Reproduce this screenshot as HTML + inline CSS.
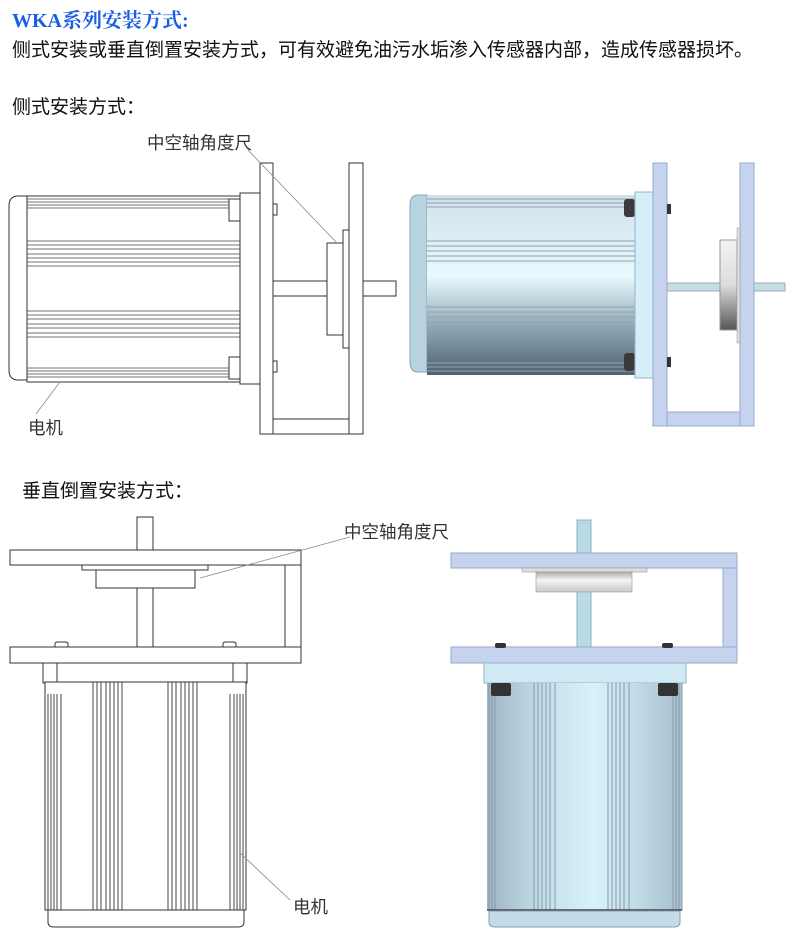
<!DOCTYPE html>
<html><head><meta charset="utf-8"><style>
html,body{margin:0;padding:0;background:#fff;}
body{width:790px;height:935px;overflow:hidden;position:relative;font-family:"Liberation Sans","Noto Sans CJK SC",sans-serif;}
.t{position:absolute;white-space:nowrap;color:#111;}
</style></head><body>
<div class="t" style="left:12px;top:4px;font-size:20px;font-weight:bold;color:#1a5ee8;font-family:'Liberation Serif','Noto Serif CJK SC',serif;">WKA系列安装方式:</div>
<div class="t" style="left:12px;top:35px;font-size:19px;">侧式安装或垂直倒置安装方式，可有效避免油污水垢渗入传感器内部，造成传感器损坏。</div>
<div class="t" style="left:12px;top:92px;font-size:19px;">侧式安装方式：</div>
<div class="t" style="left:22px;top:476px;font-size:19px;">垂直倒置安装方式：</div>
<div class="t" style="left:147px;top:130px;font-size:17.5px;color:#333;">中空轴角度尺</div>
<div class="t" style="left:28px;top:415px;font-size:17.5px;color:#333;">电机</div>
<div class="t" style="left:344px;top:519px;font-size:17.5px;color:#333;">中空轴角度尺</div>
<div class="t" style="left:293px;top:894px;font-size:17.5px;color:#333;">电机</div>
<svg width="790" height="935" style="position:absolute;left:0;top:0" xmlns="http://www.w3.org/2000/svg">
<defs>
<linearGradient id="gv" x1="0" y1="0" x2="0" y2="1">
<stop offset="0" stop-color="#cfe0ea"/><stop offset="0.45" stop-color="#e8faff"/><stop offset="0.75" stop-color="#8aa3b2"/><stop offset="1" stop-color="#4e6270"/></linearGradient>
<linearGradient id="gh" x1="0" y1="0" x2="1" y2="0">
<stop offset="0" stop-color="#9fb6c4"/><stop offset="0.3" stop-color="#c5e0ec"/><stop offset="0.55" stop-color="#d8f2fc"/><stop offset="1" stop-color="#a7c0cf"/></linearGradient>
<linearGradient id="enc" x1="0" y1="0" x2="0" y2="1"><stop offset="0" stop-color="#f2f2f2"/><stop offset="0.5" stop-color="#ddd"/><stop offset="1" stop-color="#555"/></linearGradient>
<linearGradient id="enc2" x1="0" y1="0" x2="0" y2="1"><stop offset="0" stop-color="#aaa"/><stop offset="0.4" stop-color="#f4f4f4"/><stop offset="1" stop-color="#c8c8c8"/></linearGradient>
</defs>
<g fill="#fff" stroke="#333" stroke-width="1">
<path d="M27 196 H18 Q9 196 9 206 V370 Q9 380 18 380 H27 Z"/>
<rect x="27" y="196" width="213" height="186"/>
<g stroke="#444" stroke-width="0.8">
<line x1="27" y1="199" x2="240" y2="199"/><line x1="27" y1="202" x2="240" y2="202"/><line x1="27" y1="205" x2="240" y2="205"/><line x1="27" y1="208" x2="240" y2="208"/>
<line x1="27" y1="241" x2="240" y2="241"/><line x1="27" y1="245" x2="240" y2="245"/><line x1="27" y1="249" x2="240" y2="249"/><line x1="27" y1="254" x2="240" y2="254"/><line x1="27" y1="258" x2="240" y2="258"/><line x1="27" y1="262" x2="240" y2="262"/><line x1="27" y1="266" x2="240" y2="266"/>
<line x1="27" y1="311" x2="240" y2="311"/><line x1="27" y1="315" x2="240" y2="315"/><line x1="27" y1="319" x2="240" y2="319"/><line x1="27" y1="324" x2="240" y2="324"/><line x1="27" y1="328" x2="240" y2="328"/><line x1="27" y1="333" x2="240" y2="333"/><line x1="27" y1="337" x2="240" y2="337"/>
<line x1="27" y1="368" x2="240" y2="368"/><line x1="27" y1="371" x2="240" y2="371"/><line x1="27" y1="374" x2="240" y2="374"/><line x1="27" y1="377" x2="240" y2="377"/>
</g>
<rect x="229" y="199" width="11" height="22"/><rect x="229" y="357" width="11" height="22"/>
<rect x="240" y="193" width="20" height="191"/>
<rect x="260" y="163" width="13" height="271"/>
<rect x="349" y="163" width="14" height="271"/>
<rect x="273" y="419" width="76" height="15"/>
<rect x="273" y="204" width="4" height="11"/><rect x="273" y="361" width="4" height="11"/>
<rect x="273" y="281" width="54" height="15"/>
<rect x="363" y="281" width="33" height="15"/>
<rect x="327" y="243" width="16" height="92"/>
<rect x="343" y="230" width="6" height="118"/>
</g>
<line x1="248" y1="150" x2="336" y2="242" stroke="#888" stroke-width="0.8"/>
<line x1="60" y1="382" x2="36" y2="414" stroke="#888" stroke-width="0.8"/>
<path d="M427 195 H418 Q410 195 410 205 V362 Q410 372 418 372 H427 Z" fill="#b8d2e0" stroke="#8aa4b4"/>
<rect x="427" y="195" width="208" height="180" fill="url(#gv)"/>
<g stroke="#8fa2ae" stroke-width="1">
<line x1="427" y1="199" x2="635" y2="199"/><line x1="427" y1="203" x2="635" y2="203"/><line x1="427" y1="207" x2="635" y2="207"/>
<line x1="427" y1="241" x2="635" y2="241"/><line x1="427" y1="246" x2="635" y2="246"/><line x1="427" y1="251" x2="635" y2="251"/><line x1="427" y1="256" x2="635" y2="256"/><line x1="427" y1="261" x2="635" y2="261"/>
<line x1="427" y1="307" x2="635" y2="307"/><line x1="427" y1="312" x2="635" y2="312"/><line x1="427" y1="317" x2="635" y2="317"/><line x1="427" y1="322" x2="635" y2="322"/><line x1="427" y1="327" x2="635" y2="327"/>
<line x1="427" y1="363" x2="635" y2="363"/><line x1="427" y1="367" x2="635" y2="367"/><line x1="427" y1="371" x2="635" y2="371"/>
</g>
<rect x="624" y="199" width="11" height="18" rx="3" fill="#3a3a3a"/><rect x="624" y="353" width="11" height="18" rx="3" fill="#3a3a3a"/>
<rect x="635" y="192" width="18" height="186" fill="#d4eefa" stroke="#9ab4c4"/>
<g fill="#c5d3ef" stroke="#98a8cc">
<rect x="653" y="163" width="14" height="263"/>
<rect x="740" y="163" width="14" height="263"/>
<rect x="667" y="412" width="73" height="14"/>
</g>
<rect x="667" y="204" width="4" height="10" fill="#333"/><rect x="667" y="357" width="4" height="10" fill="#333"/>
<rect x="667" y="283" width="53" height="8" fill="#c8dce6" stroke="#9ab"/>
<rect x="754" y="283" width="31" height="8" fill="#c8dce6" stroke="#9ab"/>
<rect x="720" y="240" width="17" height="90" fill="url(#enc)" stroke="#999"/>
<rect x="737" y="228" width="3" height="115" fill="#ddd" stroke="#999" stroke-width="0.5"/>
<g fill="#fff" stroke="#333" stroke-width="1">
<rect x="137" y="517" width="16" height="33"/>
<rect x="137" y="565" width="16" height="82"/>
<rect x="10" y="550" width="291" height="15"/>
<rect x="82" y="565" width="126" height="5"/>
<rect x="96" y="570" width="99" height="18"/>
<rect x="285" y="565" width="16" height="82"/>
<path d="M55 647 V644 Q55 642 58 642 H65 Q68 642 68 644 V647"/>
<path d="M223 647 V644 Q223 642 226 642 H233 Q236 642 236 644 V647"/>
<rect x="10" y="647" width="291" height="16"/>
<rect x="43" y="663" width="204" height="19"/>
<rect x="43" y="663" width="14" height="20"/><rect x="233" y="663" width="14" height="20"/>
<rect x="50" y="682" width="22" height="12"/><rect x="219" y="682" width="22" height="12"/>
<rect x="45" y="682" width="201" height="228"/>
<path d="M48 910 H244 V922 Q244 927 238 927 H54 Q48 927 48 922 Z"/>
</g>
<g stroke="#333" stroke-width="0.9">
<line x1="48" y1="694" x2="48" y2="910"/><line x1="51" y1="694" x2="51" y2="910"/><line x1="54" y1="694" x2="54" y2="910"/><line x1="57" y1="694" x2="57" y2="910"/><line x1="61" y1="694" x2="61" y2="910"/>
<line x1="93" y1="682" x2="93" y2="910"/><line x1="97" y1="682" x2="97" y2="910"/><line x1="101" y1="682" x2="101" y2="910"/><line x1="106" y1="682" x2="106" y2="910"/><line x1="110" y1="682" x2="110" y2="910"/><line x1="114" y1="682" x2="114" y2="910"/><line x1="118" y1="682" x2="118" y2="910"/><line x1="122" y1="682" x2="122" y2="910"/>
<line x1="168" y1="682" x2="168" y2="910"/><line x1="172" y1="682" x2="172" y2="910"/><line x1="176" y1="682" x2="176" y2="910"/><line x1="181" y1="682" x2="181" y2="910"/><line x1="185" y1="682" x2="185" y2="910"/><line x1="189" y1="682" x2="189" y2="910"/><line x1="193" y1="682" x2="193" y2="910"/><line x1="197" y1="682" x2="197" y2="910"/>
<line x1="230" y1="694" x2="230" y2="910"/><line x1="234" y1="694" x2="234" y2="910"/><line x1="237" y1="694" x2="237" y2="910"/><line x1="240" y1="694" x2="240" y2="910"/><line x1="243" y1="694" x2="243" y2="910"/>
</g>
<line x1="200" y1="578" x2="350" y2="537" stroke="#888" stroke-width="0.8"/>
<line x1="240" y1="853" x2="290" y2="900" stroke="#888" stroke-width="0.8"/>
<g fill="#c5d3ef" stroke="#98a8cc">
<rect x="451" y="553" width="286" height="15"/>
<rect x="723" y="568" width="14" height="79"/>
<rect x="451" y="647" width="286" height="16"/>
</g>
<rect x="577" y="520" width="14" height="33" fill="#b9dbe8" stroke="#8fb0c0"/>
<rect x="577" y="568" width="14" height="79" fill="#b9dbe8" stroke="#8fb0c0"/>
<rect x="522" y="568" width="125" height="4" fill="#ddd" stroke="#999" stroke-width="0.6"/>
<rect x="536" y="572" width="96" height="20" fill="url(#enc2)" stroke="#999" stroke-width="0.6"/>
<rect x="495" y="643" width="11" height="5" rx="2" fill="#333"/><rect x="662" y="643" width="11" height="5" rx="2" fill="#333"/>
<rect x="484" y="663" width="202" height="20" fill="#cfe9f5" stroke="#98b2c2"/>
<rect x="487" y="683" width="195" height="227" fill="url(#gh)"/>
<g stroke="#7f95a3" stroke-width="0.9">
<line x1="489" y1="683" x2="489" y2="910"/><line x1="492" y1="683" x2="492" y2="910"/><line x1="495" y1="683" x2="495" y2="910"/>
<line x1="534" y1="683" x2="534" y2="910"/><line x1="538" y1="683" x2="538" y2="910"/><line x1="542" y1="683" x2="542" y2="910"/><line x1="546" y1="683" x2="546" y2="910"/><line x1="550" y1="683" x2="550" y2="910"/><line x1="555" y1="683" x2="555" y2="910"/>
<line x1="608" y1="683" x2="608" y2="910"/><line x1="612" y1="683" x2="612" y2="910"/><line x1="616" y1="683" x2="616" y2="910"/><line x1="620" y1="683" x2="620" y2="910"/><line x1="624" y1="683" x2="624" y2="910"/><line x1="629" y1="683" x2="629" y2="910"/>
<line x1="673" y1="683" x2="673" y2="910"/><line x1="676" y1="683" x2="676" y2="910"/><line x1="679" y1="683" x2="679" y2="910"/><line x1="682" y1="683" x2="682" y2="910"/>
</g>
<rect x="491" y="683" width="20" height="13" rx="2" fill="#333"/><rect x="658" y="683" width="20" height="13" rx="2" fill="#333"/>
<line x1="487" y1="910" x2="682" y2="910" stroke="#444" stroke-width="1.5"/>
<path d="M489 911 H680 V922 Q680 927 674 927 H495 Q489 927 489 922 Z" fill="#c2dcea" stroke="#8aa0ae"/>
</svg>
</body></html>
